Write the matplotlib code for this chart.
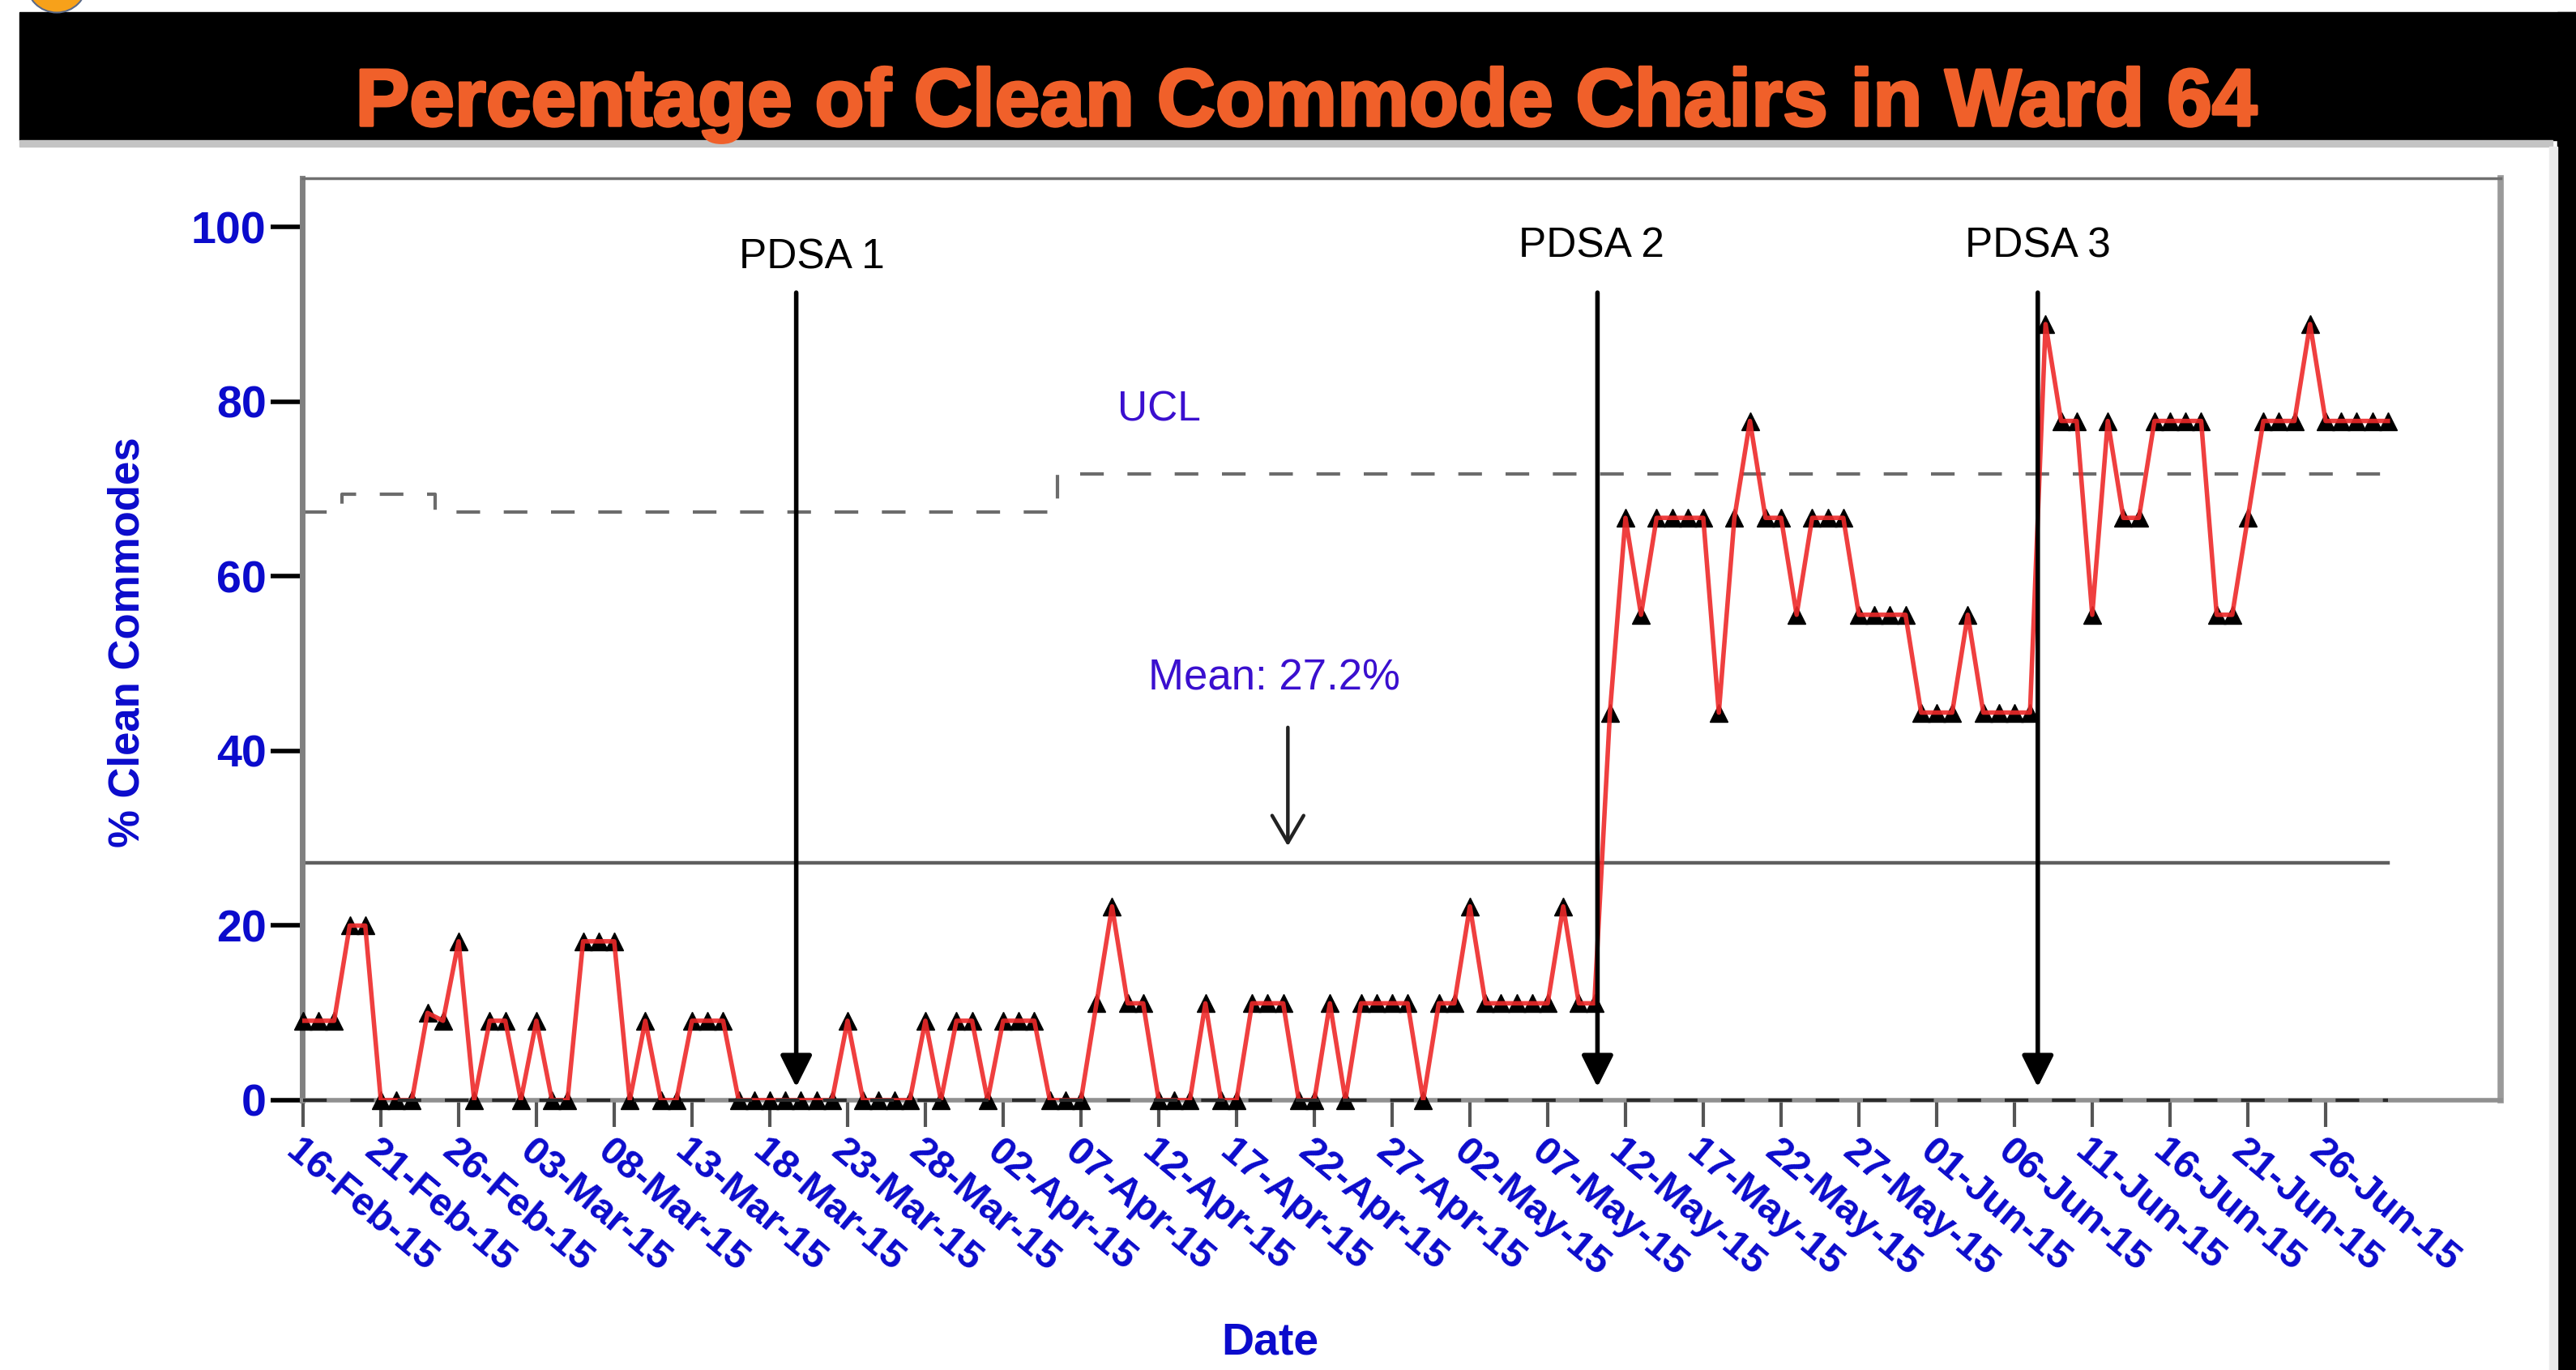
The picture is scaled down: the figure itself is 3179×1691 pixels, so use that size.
import numpy as np
import pandas as pd
import matplotlib
matplotlib.use('Agg')
import matplotlib.pyplot as plt
import matplotlib.patheffects as pe
from matplotlib.patches import Rectangle, Ellipse

# --- Data (one point per day) ---
dates = pd.date_range('2015-02-16', '2015-06-30', freq='D')
pct_clean = [
    9.1, 9.1, 9.1, 20, 20, 0, 0, 0, 10, 9.1,
    18.2, 0, 9.1, 9.1, 0, 9.1, 0, 0, 18.2, 18.2,
    18.2, 0, 9.1, 0, 0, 9.1, 9.1, 9.1, 0, 0,
    0, 0, 0, 0, 0, 9.1, 0, 0, 0, 0,
    9.1, 0, 9.1, 9.1, 0, 9.1, 9.1, 9.1, 0, 0,
    0, 11.1, 22.2, 11.1, 11.1, 0, 0, 0, 11.1, 0,
    0, 11.1, 11.1, 11.1, 0, 0, 11.1, 0, 11.1, 11.1,
    11.1, 11.1, 0, 11.1, 11.1, 22.2, 11.1, 11.1, 11.1, 11.1,
    11.1, 22.2, 11.1, 11.1, 44.4, 66.7, 55.6, 66.7, 66.7, 66.7,
    66.7, 44.4, 66.7, 77.8, 66.7, 66.7, 55.6, 66.7, 66.7, 66.7,
    55.6, 55.6, 55.6, 55.6, 44.4, 44.4, 44.4, 55.6, 44.4, 44.4,
    44.4, 44.4, 88.9, 77.8, 77.8, 55.6, 77.8, 66.7, 66.7, 77.8,
    77.8, 77.8, 77.8, 55.6, 55.6, 66.7, 77.8, 77.8, 77.8, 88.9,
    77.8, 77.8, 77.8, 77.8, 77.8,
]
ucl = [67.4] * 3 + [69.4] * 6 + [67.4] * 40 + [71.7] * 86
lcl = [0.0] * 135
mean_pct = 27.2
pdsa_labels = ['PDSA 1', 'PDSA 2', 'PDSA 3']
pdsa_days = [31.7, 83.2, 111.5]
tick_dates = dates[::5]

assert len(pct_clean) == len(dates) == len(ucl)

W, H = 3179, 1691
BLUE = '#0B0BCC'
LABEL_BLUE = '#3A0FCF'
plt.rcParams['font.family'] = ['Liberation Sans', 'DejaVu Sans']

fig = plt.figure(figsize=(W / 100, H / 100), dpi=100)
fig.patch.set_facecolor('white')

# --- Banner and frame decorations ---
fig.patches.append(Rectangle((24 / W, 1 - 173 / H), 1 - 24 / W, 158 / H,
                             transform=fig.transFigure, color='black', zorder=0))
fig.patches.append(Rectangle((24 / W, 1 - 181 / H), (3150 - 24) / W, 8 / H,
                             transform=fig.transFigure, color='#c4c4c4', zorder=0))
fig.patches.append(Rectangle((3156 / W, 0), 23 / W, 1 - 15 / H,
                             transform=fig.transFigure, color='black', zorder=0))
fig.patches.append(Rectangle((3146 / W, 0), 10 / W, 1 - 181 / H,
                             transform=fig.transFigure, color='#ececec', zorder=0))
fig.patches.append(Ellipse((70 / W, 1 + 22 / H), 75 / W, 75 / H,
                           transform=fig.transFigure, facecolor='#F7A11A',
                           edgecolor='#5a6a8a', lw=1.5, zorder=1))

fig.text(0.507, 1 - 155 / H, 'Percentage of Clean Commode Chairs in Ward 64',
         ha='center', va='baseline', fontsize=72, fontweight='bold', color='#F0602A',
         path_effects=[pe.withStroke(linewidth=2.5, foreground='#F0602A')])

# --- Main axes ---
ax = fig.add_axes([373 / W, 1 - 1358 / H, (3086 - 373) / W, (1358 - 220) / H])
x = np.arange(len(dates))

ax.plot(x, ucl, drawstyle='steps-mid', ls=(0, (7, 7)), color='#6c6c6c', lw=3, zorder=2)
ax.plot(x, lcl, ls=(0, (7, 7)), color='#2a2a2a', lw=3, zorder=5, clip_on=False)
ax.plot([x[0], x[-1]], [mean_pct, mean_pct], color='#5e5e5e', lw=3.2, zorder=2)

ax.plot(x, pct_clean, ls='none', marker='^', color='black', ms=16, zorder=3, clip_on=False)
ax.plot(x, pct_clean, color='#EE2A2A', lw=4, alpha=0.9, zorder=4)

for label, day in zip(pdsa_labels, pdsa_days):
    ax.annotate('', xy=(day, 1.5), xytext=(day, 92.5),
                arrowprops=dict(arrowstyle='-|>,head_length=0.6,head_width=0.3',
                                color='black', lw=4, mutation_scale=40,
                                shrinkA=0, shrinkB=0), zorder=6)
ax.text(32.7, 96.5, pdsa_labels[0], ha='center', va='center', fontsize=37, color='black')
ax.text(82.8, 97.8, pdsa_labels[1], ha='center', va='center', fontsize=37, color='black')
ax.text(111.5, 97.8, pdsa_labels[2], ha='center', va='center', fontsize=37, color='black')

ax.text(55.0, 79.1, 'UCL', ha='center', va='center', fontsize=37, color=LABEL_BLUE)
ax.text(62.4, 48.3, f'Mean: {mean_pct}%', ha='center', va='center', fontsize=38,
        color=LABEL_BLUE)
ax.annotate('', xy=(63.3, 29.1), xytext=(63.3, 42.7),
            arrowprops=dict(arrowstyle='->,head_length=0.6,head_width=0.35',
                            color='#222222', lw=3.2, mutation_scale=40,
                            shrinkA=0, shrinkB=0))

ax.set_xlim(-0.05, 141.25)
ax.set_ylim(0, 105.6)

ax.set_yticks([0, 20, 40, 60, 80, 100])
ax.tick_params(axis='y', length=28, width=4, color='black', labelsize=40,
               labelcolor=BLUE, pad=4)
for lbl in ax.get_yticklabels():
    lbl.set_fontweight('bold')

ax.set_xticks(x[::5])
ax.set_xticklabels(tick_dates.strftime('%d-%b-%y'), rotation=-40, ha='left',
                   va='top', rotation_mode='anchor', fontsize=35,
                   fontweight='bold', color=BLUE)
ax.tick_params(axis='x', length=24, width=3, color='#555555', pad=5)

ax.spines['top'].set_color('#707070')
ax.spines['top'].set_linewidth(2.5)
ax.spines['right'].set_color('#9a9a9a')
ax.spines['right'].set_linewidth(5.5)
ax.spines['left'].set_color('#808080')
ax.spines['left'].set_linewidth(5)
ax.spines['bottom'].set_color('#909090')
ax.spines['bottom'].set_linewidth(4)

fig.text(158 / W, 1 - 793 / H, '% Clean Commodes', rotation=90, ha='center',
         va='center', fontsize=38, fontweight='bold', color=BLUE)
fig.text(1567 / W, 1 - 1658 / H, 'Date', ha='center', va='center', fontsize=40,
         fontweight='bold', color=BLUE)

fig.savefig('out.png', dpi=100, facecolor='white')
